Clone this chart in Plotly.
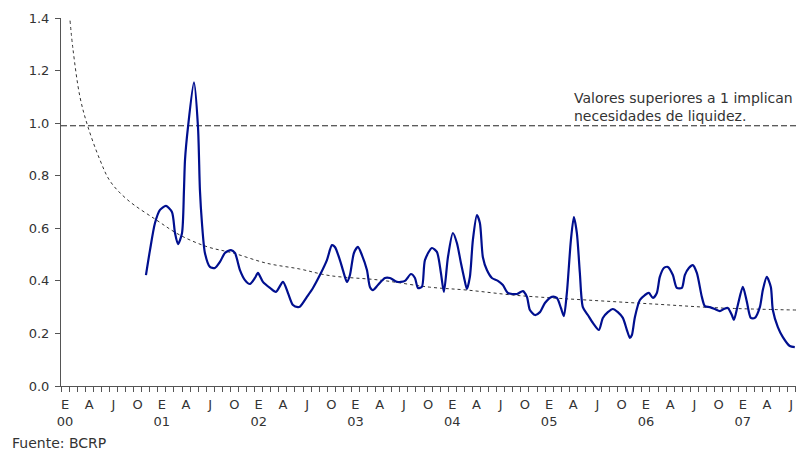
import plotly.graph_objects as go

# Months since start of Jan 2000 (Jan 2000 spans 0..1)
ratio_t = [10.53, 11.03, 11.65, 12.27, 13.01, 13.75, 14.13, 14.50, 14.99, 15.24, 15.37, 15.74,
           16.48, 16.98, 17.22, 17.47, 17.84, 18.46, 19.08, 19.70, 20.32, 21.07, 21.56, 22.18,
           22.80, 23.42, 24.04, 24.41, 25.03, 25.90, 26.64, 27.51, 28.13, 28.75, 29.37, 29.62,
           30.48, 31.23, 32.09, 32.96, 33.58, 33.95, 34.57, 34.94, 35.44, 35.81, 36.31, 36.80,
           37.30, 37.92, 38.29, 38.66, 39.28, 40.15, 40.77, 41.64, 42.63, 43.37, 43.87, 44.24,
           44.73, 45.11, 45.97, 46.59, 47.09, 47.46, 47.96, 48.57, 49.07, 49.57, 49.94, 50.31,
           50.68, 51.05, 51.55, 51.92, 52.29, 52.79, 53.41, 54.15, 54.77, 55.39, 56.51, 57.25,
           57.75, 58.12, 58.74, 59.36, 59.98, 60.84, 61.46, 61.96, 62.33, 62.70, 63.20, 63.57,
           63.94, 64.31, 64.68, 65.30, 65.92, 66.67, 67.16, 67.78, 68.40, 69.02, 69.64, 70.14,
           70.51, 70.76, 71.13, 71.75, 72.37, 72.86, 73.36, 73.85, 74.22, 74.72, 75.22, 75.84,
           76.33, 76.95, 77.32, 77.82, 78.31, 78.81, 79.43, 79.80, 80.42, 81.04, 81.66, 82.16,
           82.65, 83.15, 83.40, 83.89, 84.51, 85.01, 85.50, 86.00, 86.62, 86.99, 87.48, 87.98,
           88.23, 88.85, 89.47, 90.33, 90.95]
ratio_v = [0.422, 0.517, 0.62, 0.67, 0.685, 0.662, 0.582, 0.54, 0.58, 0.745, 0.86, 0.985,
           1.155, 0.985, 0.745, 0.62, 0.506, 0.453, 0.449, 0.472, 0.506, 0.517, 0.506, 0.441,
           0.403, 0.388, 0.411, 0.43, 0.396, 0.373, 0.358, 0.396, 0.354, 0.308, 0.30, 0.302,
           0.339, 0.373, 0.422, 0.479, 0.536, 0.529, 0.479, 0.441, 0.396, 0.422, 0.506, 0.529,
           0.498, 0.441, 0.377, 0.365, 0.384, 0.411, 0.411, 0.396, 0.40, 0.426, 0.411, 0.373,
           0.377, 0.479, 0.525, 0.51, 0.43, 0.358, 0.49, 0.582, 0.544, 0.468, 0.415, 0.369,
           0.415, 0.555, 0.65, 0.62, 0.49, 0.441, 0.411, 0.40, 0.384, 0.354, 0.35, 0.361,
           0.339, 0.289, 0.27, 0.281, 0.316, 0.339, 0.335, 0.297, 0.266, 0.354, 0.555, 0.643,
           0.582, 0.43, 0.30, 0.27, 0.24, 0.213, 0.259, 0.281, 0.293, 0.281, 0.259, 0.213,
           0.183, 0.194, 0.262, 0.327, 0.346, 0.354, 0.335, 0.354, 0.415, 0.449, 0.453, 0.422,
           0.373, 0.373, 0.422, 0.449, 0.46, 0.43, 0.339, 0.304, 0.30, 0.293, 0.285, 0.293,
           0.297, 0.27, 0.251, 0.308, 0.377, 0.32, 0.259, 0.259, 0.30, 0.365, 0.415, 0.377,
           0.289, 0.224, 0.186, 0.152, 0.148]

trend_t = [1.12, 1.49, 2.35, 3.35, 4.83, 6.07, 8.18, 11.9, 14.75, 18.1, 21.3, 25.5, 29.6,
           33.3, 39.5, 45.7, 50.3, 56.0, 59.4, 65.2, 73.4, 81.7, 91.1]
trend_v = [1.39, 1.28, 1.10, 0.985, 0.86, 0.78, 0.71, 0.63, 0.574, 0.53, 0.506, 0.467, 0.445,
           0.42, 0.403, 0.376, 0.365, 0.346, 0.338, 0.327, 0.312, 0.297, 0.289]

threshold = 0.99
x_start, x_end = 0, 91.1

month_letters = ["E", "A", "J", "O"]
years = ["00", "01", "02", "03", "04", "05", "06", "07"]

tickvals, ticktext = [], []
for k in range(31):
    tickvals.append(0.5 + 3 * k)
    letter = month_letters[k % 4]
    if k % 4 == 0:
        ticktext.append(f"{letter}<br>{years[k // 4]}")
    else:
        ticktext.append(letter)

font = "DejaVu Sans"
txt = "#333333"

fig = go.Figure()
fig.add_trace(go.Scatter(x=[x_start, x_end], y=[threshold, threshold], mode="lines",
                         line=dict(color="#222222", width=1, dash="6px,3px"),
                         hoverinfo="skip", showlegend=False))
fig.add_trace(go.Scatter(x=trend_t, y=trend_v, mode="lines",
                         line=dict(color="#333333", width=1, dash="3px,3px", shape="spline",
                                   smoothing=1.0),
                         hoverinfo="skip", showlegend=False))
fig.add_trace(go.Scatter(x=ratio_t, y=ratio_v, mode="lines",
                         line=dict(color="#000f8f", width=2.2, shape="spline", smoothing=0.7),
                         showlegend=False))

fig.add_annotation(x=63.3, y=1.063, xref="x", yref="y", xanchor="left", yanchor="middle",
                   text="Valores superiores a 1 implican<br>necesidades de liquidez.",
                   showarrow=False, align="left",
                   font=dict(family=font, size=14, color=txt))
fig.add_annotation(x=-51 / 735, y=-57 / 368, xref="paper", yref="paper",
                   xanchor="left", yanchor="middle", showarrow=False,
                   text="Fuente: BCRP", font=dict(family=font, size=14, color=txt))

fig.update_layout(
    width=796, height=454,
    margin=dict(l=61, r=0, t=18, b=68),
    paper_bgcolor="white", plot_bgcolor="white",
    font=dict(family=font, size=13, color=txt),
    xaxis=dict(range=[x_start, x_end], showgrid=False, zeroline=False,
               showline=True, linecolor="#555555", linewidth=1,
               tickmode="array", tickvals=tickvals, ticktext=ticktext, ticks="",
               ticklabelstandoff=6,
               tickfont=dict(family=font, size=13, color=txt),
               minor=dict(ticks="outside", tick0=0, dtick=1, ticklen=5,
                          tickcolor="#555555", tickwidth=1, showgrid=False)),
    yaxis=dict(range=[0, 1.4], showgrid=False, zeroline=False,
               showline=True, linecolor="#555555", linewidth=1,
               tickmode="array", tickvals=[0, 0.2, 0.4, 0.6, 0.8, 1.0, 1.2, 1.4],
               tickformat=".1f", ticks="outside", ticklen=5, tickcolor="#555555",
               ticklabelstandoff=3,
               tickfont=dict(family=font, size=13, color=txt)),
)

fig.write_html("out.html", config={"displayModeBar": False},
               post_script="document.body.style.margin='0px';")
